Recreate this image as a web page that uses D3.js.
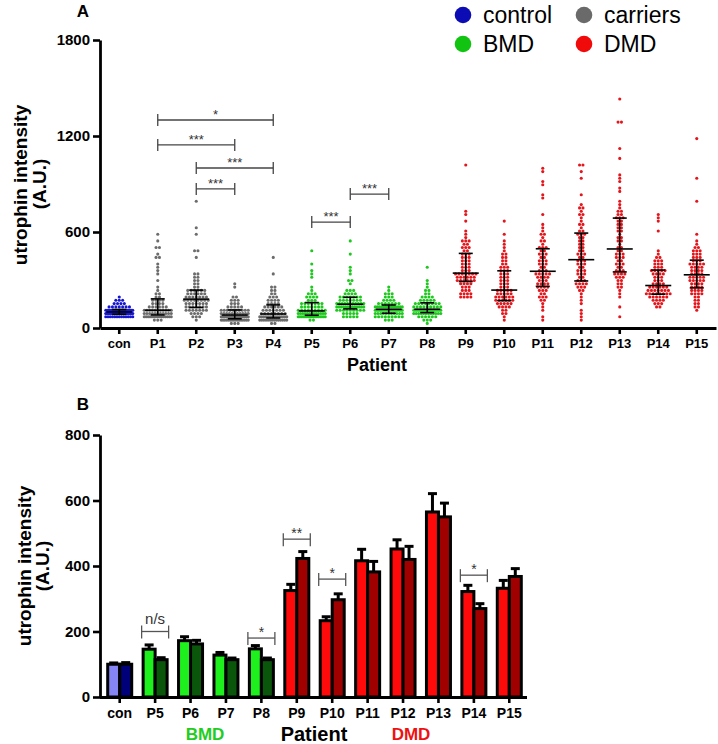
<!DOCTYPE html>
<html><head><meta charset="utf-8">
<script src="https://cdn.jsdelivr.net/npm/d3@7"></script>
<style>
body{margin:0;background:#fff}
svg{display:block}
text{font-family:Arial,"Liberation Sans",sans-serif}
</style>
</head><body>
<svg id="chart" width="718" height="744"></svg>
<script>
// ---------- Panel A data ----------
const groupsA = ["con","P1","P2","P3","P4","P5","P6","P7","P8","P9","P10","P11","P12","P13","P14","P15"];
const groupTypeA = ["control","carriers","carriers","carriers","carriers","BMD","BMD","BMD","BMD","DMD","DMD","DMD","DMD","DMD","DMD","DMD"];
const legendLabels = ["control","carriers","BMD","DMD"];
const yTicksA = [0,600,1200,1800];

const conValues = [62,65,68,70,72,73,75,76,77,78,79,80,80,81,82,83,84,85,86,87,88,88,89,90,91,92,92,93,94,95,95,96,97,98,99,100,101,102,103,103,104,105,106,107,108,108,109,110,111,112,112,113,114,115,117,119,121,123,125,128,130,133,136,140,144,148,152,158,165,172,182,190];
const p1Values = [50,55,58,60,62,64,66,68,70,71,72,74,75,76,77,78,79,80,82,84,86,88,89,91,93,95,96,98,100,101,103,104,106,107,108,110,112,115,118,121,124,127,130,134,138,142,146,150,155,160,165,170,175,180,188,196,205,215,228,248,300,335,366,387,408,435,442,471,498,510,546,587];
const p2Values = [48,60,70,78,85,90,95,99,103,106,109,112,115,118,120,122,124,126,129,133,137,140,144,147,150,153,156,159,162,165,168,170,172,175,177,179,182,185,188,191,194,197,200,203,206,209,212,215,218,222,226,230,233,236,240,245,250,262,270,278,288,300,310,322,331,346,446,483,492,592,623,790];
const p3Values = [30,35,38,40,42,44,45,46,48,49,50,51,52,53,54,55,55,56,58,60,61,62,64,65,66,67,68,70,71,72,74,75,76,78,79,80,82,84,85,87,89,90,92,93,95,97,99,101,103,105,107,109,110,112,115,118,121,125,128,131,135,140,145,150,156,163,170,175,185,196,248,279];
const p4Values = [35,38,40,42,44,46,48,50,51,52,54,55,56,57,58,59,60,61,63,64,65,66,68,69,70,72,73,75,76,78,79,80,82,83,85,86,89,92,95,98,101,104,107,110,113,116,119,122,126,130,134,137,140,143,148,153,158,164,170,176,182,188,195,203,212,220,228,237,248,262,337,444];
const p5Values = [55,58,60,62,63,65,66,67,68,70,71,72,73,74,75,76,77,79,80,82,84,86,87,89,90,92,93,95,96,98,99,100,101,103,104,105,108,111,114,117,120,123,126,129,132,135,138,141,144,147,150,153,155,158,162,167,172,178,184,190,196,203,210,215,221,233,260,321,342,358,410,492];
const p6Values = [62,68,72,76,80,84,88,92,95,98,101,104,107,110,112,114,116,118,120,122,124,125,127,129,130,132,134,135,137,139,140,142,143,145,146,147,150,152,154,156,158,160,162,165,167,170,172,175,178,181,184,186,189,191,195,199,203,208,213,218,224,230,236,242,269,290,304,331,358,373,456,554];
const p7Values = [48,52,56,60,63,66,69,72,74,76,78,80,82,84,86,88,90,91,93,95,96,98,99,101,102,104,105,107,108,110,111,112,113,114,115,116,118,120,121,123,124,126,127,129,130,132,133,135,136,138,139,141,142,143,146,149,152,155,158,162,166,170,175,180,186,192,199,206,214,224,240,256];
const p8Values = [35,45,52,58,62,66,70,73,76,79,81,83,85,87,89,91,93,95,97,98,99,100,101,103,104,105,106,107,108,109,110,111,112,113,114,116,119,121,123,125,127,129,131,133,136,138,140,143,146,148,151,153,155,157,160,164,168,172,176,180,185,190,196,202,208,215,227,240,254,279,304,387];
const p9Values = [187,192,198,203,208,213,218,224,230,236,242,248,254,260,266,272,278,286,292,295,298,301,304,307,310,313,316,319,322,325,328,331,334,337,339,341,345,352,359,366,373,380,387,394,401,408,415,422,429,436,443,450,457,465,470,478,486,494,502,510,520,530,540,548,552,565,578,596,658,717,727,1015];
const p10Values = [50,62,81,95,105,115,123,130,136,141,146,150,154,158,161,164,166,168,172,176,180,184,188,192,196,200,204,208,212,216,220,224,227,230,232,234,240,247,254,261,268,275,282,289,296,303,310,317,324,331,338,344,350,356,362,370,378,386,395,405,415,425,436,448,460,472,488,500,529,540,587,675];
const p11Values = [40,75,112,135,152,165,176,186,195,204,212,220,227,234,240,246,251,256,262,268,274,280,286,292,298,304,310,316,321,326,331,336,340,344,348,351,358,366,374,382,390,398,406,414,422,430,438,446,454,462,470,478,486,493,502,512,522,535,548,562,578,592,596,629,650,717,806,837,894,915,977,994];
const p12Values = [40,71,95,117,145,175,195,212,226,238,248,256,263,269,275,280,284,288,296,304,312,320,328,336,344,352,360,368,376,384,391,398,405,411,417,422,432,442,452,462,472,482,492,502,512,522,532,542,552,562,570,578,585,591,600,612,625,640,655,670,688,700,710,720,745,760,779,831,946,977,1012,1025];
const p13Values = [62,140,190,210,230,248,262,274,285,295,304,312,320,327,333,338,342,346,352,360,368,376,384,392,400,408,416,424,432,440,448,456,464,472,480,488,500,512,524,536,548,560,572,584,596,608,620,632,644,656,666,674,680,684,696,700,712,725,738,752,769,790,846,867,908,940,950,1065,1117,1283,1294,1429];
const p14Values = [123,135,145,153,160,166,172,177,182,186,190,194,197,200,203,205,207,209,212,215,218,221,224,227,230,233,236,239,242,245,248,251,254,257,260,263,268,274,280,286,292,298,304,310,316,322,328,334,340,345,350,354,358,361,366,372,378,385,392,400,407,414,422,430,440,450,462,483,598,675,696,712];
const p15Values = [112,125,140,152,162,172,181,190,198,205,212,218,224,230,235,240,244,247,252,257,262,267,272,277,282,287,292,297,302,307,312,316,320,324,327,330,335,340,345,350,355,360,365,370,375,380,385,390,395,400,405,410,415,422,430,437,444,451,458,465,472,480,484,490,498,505,520,540,592,794,946,1181];
const scatterValues = [conValues,p1Values,p2Values,p3Values,p4Values,p5Values,p6Values,p7Values,p8Values,p9Values,p10Values,p11Values,p12Values,p13Values,p14Values,p15Values];

// significance brackets panel A: [from, to, label, y-value]
const bracketsA = [["P1","P4","*",1300],["P1","P3","***",1144],["P2","P4","***",1000],["P2","P3","***",869],["P5","P6","***",662],["P6","P7","***",837]];

// ---------- Panel B data ----------
const categoriesB = ["con","P5","P6","P7","P8","P9","P10","P11","P12","P13","P14","P15"];
const groupTypeB = ["control","BMD","BMD","BMD","BMD","DMD","DMD","DMD","DMD","DMD","DMD","DMD"];
const meanLightB = [100,146,172,128,147,325,233,416,452,565,322,332];
const errLightB  = [4,13,12,8,10,19,12,35,28,56,19,24];
const meanDarkB  = [100,114,162,114,114,423,297,382,420,550,270,368];
const errDarkB   = [5,6,11,5,5,21,18,32,40,42,15,24];
const yTicksB = [0,200,400,600,800];
const bracketsB = [["P5","n/s",200],["P8","*",180],["P9","**",482],["P10","*",360],["P14","*",372]];

// ---------- Styles ----------
const dotColor = {control:"#1616d2",carriers:"#6c6c6c",BMD:"#1ec81e",DMD:"#e4161c"};
const legendColor = {control:"#0c0cb4",carriers:"#6a6a6a",BMD:"#12c412",DMD:"#f00a0a"};
const lightColor = {control:"#8585f5",BMD:"#1ef01e",DMD:"#ff0a0a"};
const darkColor = {control:"#00007a",BMD:"#0a560a",DMD:"#a00000"};
const FONT = "Arial, 'Liberation Sans', sans-serif";

const svg = d3.select("#chart");

function styleAxis(g, fs){
  g.attr("font-family",FONT);
  g.select(".domain").style("stroke","#000").style("stroke-width","2.8px");
  g.selectAll(".tick line").style("stroke","#000").style("stroke-width","2.6px");
  g.selectAll(".tick text").style("font-family",FONT).style("font-weight","bold")
    .style("font-size",fs+"px").style("fill","#000");
}

// ================= PANEL A =================
const xA = d3.scaleBand().domain(groupsA).range([100,716]);
const yA = d3.scaleLinear().domain([0,1800]).range([328,40]);
const gA = svg.append("g");

// swarm layout in rows
function swarm(values, cx, y, rowH, step, maxHalf){
  const rows = d3.group(values.map(v=>({v, r:Math.round(y(v)/rowH)})), d=>d.r);
  const pts = [];
  for (const [r, arr] of rows){
    arr.sort((a,b)=>a.v-b.v);
    const n = arr.length;
    let s = step;
    if (n>1 && (n-1)*s/2 > maxHalf) s = 2*maxHalf/(n-1);
    arr.forEach((d,k)=>{
      pts.push({x: cx + (k-(n-1)/2)*s, y: r*rowH});
    });
  }
  return pts;
}

scatterValues.forEach((vals,i)=>{
  const cx = xA(groupsA[i])+xA.bandwidth()/2;
  const pts = swarm(vals, cx, yA, 3.3, 3.4, 13.5);
  gA.append("g").selectAll("circle").data(pts).join("circle")
    .attr("cx",d=>d.x).attr("cy",d=>d.y).attr("r",1.55)
    .attr("fill",dotColor[groupTypeA[i]]);
});
// median & IQR
scatterValues.forEach((vals,i)=>{
  const s = vals.slice().sort(d3.ascending);
  const q1 = d3.quantile(s,0.25), md = d3.quantile(s,0.5), q3 = d3.quantile(s,0.75);
  const cx = xA(groupsA[i])+xA.bandwidth()/2;
  const g = gA.append("g").attr("stroke","#000").attr("stroke-width",1.6);
  g.append("line").attr("x1",cx).attr("x2",cx).attr("y1",yA(q1)).attr("y2",yA(q3));
  g.append("line").attr("x1",cx-13).attr("x2",cx+13).attr("y1",yA(md)).attr("y2",yA(md));
  g.append("line").attr("x1",cx-7).attr("x2",cx+7).attr("y1",yA(q1)).attr("y2",yA(q1));
  g.append("line").attr("x1",cx-7).attr("x2",cx+7).attr("y1",yA(q3)).attr("y2",yA(q3));
});

const axYA = gA.append("g").attr("transform","translate(100,0)")
  .call(d3.axisLeft(yA).tickValues(yTicksA).tickFormat(d3.format("d")).tickSize(7).tickSizeOuter(0).tickPadding(3));
styleAxis(axYA,15);
const axXA = gA.append("g").attr("transform","translate(0,328)")
  .call(d3.axisBottom(xA).tickSize(6).tickSizeOuter(0).tickPadding(5));
styleAxis(axXA,13);

// brackets A
bracketsA.forEach(([a,b,lab,v])=>{
  const x1 = xA(a)+xA.bandwidth()/2, x2 = xA(b)+xA.bandwidth()/2, yy = yA(v);
  const g = gA.append("g").attr("stroke","#444").attr("stroke-width",1.3);
  g.append("line").attr("x1",x1).attr("x2",x2).attr("y1",yy).attr("y2",yy);
  g.append("line").attr("x1",x1).attr("x2",x1).attr("y1",yy-6).attr("y2",yy+6);
  g.append("line").attr("x1",x2).attr("x2",x2).attr("y1",yy-6).attr("y2",yy+6);
  gA.append("text").attr("x",(x1+x2)/2).attr("y",yy-1).attr("text-anchor","middle")
    .attr("font-size",13).attr("fill","#333").text(lab);
});

// titles A
gA.append("text").attr("x",83).attr("y",17).attr("text-anchor","middle").attr("font-weight","bold").attr("font-size",17).text("A");
gA.append("text").attr("transform","translate(27,185) rotate(-90)").attr("text-anchor","middle")
  .attr("font-weight","bold").attr("font-size",19).text("utrophin intensity");
gA.append("text").attr("transform","translate(46,184) rotate(-90)").attr("text-anchor","middle")
  .attr("font-weight","bold").attr("font-size",19).text("(A.U.)");
gA.append("text").attr("x",377).attr("y",371).attr("text-anchor","middle")
  .attr("font-weight","bold").attr("font-size",18).text("Patient");

// legend
const legPos = [[463,15],[584,15],[463,44],[584,44]];
legendLabels.forEach((lab,i)=>{
  const [lx,ly] = legPos[i];
  svg.append("circle").attr("cx",lx).attr("cy",ly).attr("r",8.3).attr("fill",legendColor[lab]);
  svg.append("text").attr("x",lx+20).attr("y",ly+8).attr("font-size",23).attr("fill","#000").text(lab);
});

// ================= PANEL B =================
const xB = d3.scaleBand().domain(categoriesB).range([102,527]);
const yB = d3.scaleLinear().domain([0,800]).range([697,435]);
const gB = svg.append("g");
const bw = 12;

categoriesB.forEach((c,i)=>{
  const cx = xB(c)+xB.bandwidth()/2;
  const t = groupTypeB[i];
  const bars = [
    {x:cx-bw, v:meanLightB[i], e:errLightB[i], col:lightColor[t]},
    {x:cx, v:meanDarkB[i], e:errDarkB[i], col:darkColor[t]}
  ];
  bars.forEach(b=>{
    const ex = b.x + bw/2;
    gB.append("line").attr("x1",ex).attr("x2",ex).attr("y1",yB(b.v)).attr("y2",yB(b.v+b.e))
      .attr("stroke","#000").attr("stroke-width",3);
    gB.append("line").attr("x1",ex-4.5).attr("x2",ex+4.5).attr("y1",yB(b.v+b.e)).attr("y2",yB(b.v+b.e))
      .attr("stroke","#000").attr("stroke-width",3);
  });
  bars.forEach(b=>{
    gB.append("rect").attr("x",b.x).attr("y",yB(b.v)).attr("width",bw).attr("height",yB(0)-yB(b.v))
      .attr("fill",b.col).attr("stroke","#000").attr("stroke-width",3);
  });
});

const axYB = gB.append("g").attr("transform","translate(100,0)")
  .call(d3.axisLeft(yB).tickValues(yTicksB).tickFormat(d3.format("d")).tickSize(7).tickSizeOuter(0).tickPadding(3));
styleAxis(axYB,15);
const axXB = gB.append("g").attr("transform","translate(0,697)")
  .call(d3.axisBottom(xB).tickSize(6).tickSizeOuter(0).tickPadding(5));
axXB.select(".domain").attr("d","M100,0.5H527");
styleAxis(axXB,14);

// brackets B
bracketsB.forEach(([c,lab,v])=>{
  const cx = xB(c)+xB.bandwidth()/2;
  const x1 = cx-bw-1.5, x2 = cx+bw+1.5, yy = yB(v);
  const g = gB.append("g").attr("stroke","#555").attr("stroke-width",1.3);
  g.append("line").attr("x1",x1).attr("x2",x2).attr("y1",yy).attr("y2",yy);
  g.append("line").attr("x1",x1).attr("x2",x1).attr("y1",yy-6).attr("y2",yy+7);
  g.append("line").attr("x1",x2).attr("x2",x2).attr("y1",yy-6).attr("y2",yy+7);
  const isNs = lab==="n/s";
  gB.append("text").attr("x",cx).attr("y",isNs?yy-8:yy-1).attr("text-anchor","middle")
    .attr("font-size",isNs?15:14).attr("fill","#333").text(lab);
});

gB.append("text").attr("x",83).attr("y",410).attr("text-anchor","middle").attr("font-weight","bold").attr("font-size",17).text("B");
gB.append("text").attr("transform","translate(31,566) rotate(-90)").attr("text-anchor","middle")
  .attr("font-weight","bold").attr("font-size",19).text("utrophin intensity");
gB.append("text").attr("transform","translate(49,566) rotate(-90)").attr("text-anchor","middle")
  .attr("font-weight","bold").attr("font-size",19).text("(A.U.)");
gB.append("text").attr("x",205).attr("y",740).attr("text-anchor","middle")
  .attr("font-weight","bold").attr("font-size",17).attr("fill","#22cc22").text("BMD");
gB.append("text").attr("x",314).attr("y",741).attr("text-anchor","middle")
  .attr("font-weight","bold").attr("font-size",20).attr("fill","#000").text("Patient");
gB.append("text").attr("x",411).attr("y",740).attr("text-anchor","middle")
  .attr("font-weight","bold").attr("font-size",17).attr("fill","#ee1111").text("DMD");
</script>
</body></html>
